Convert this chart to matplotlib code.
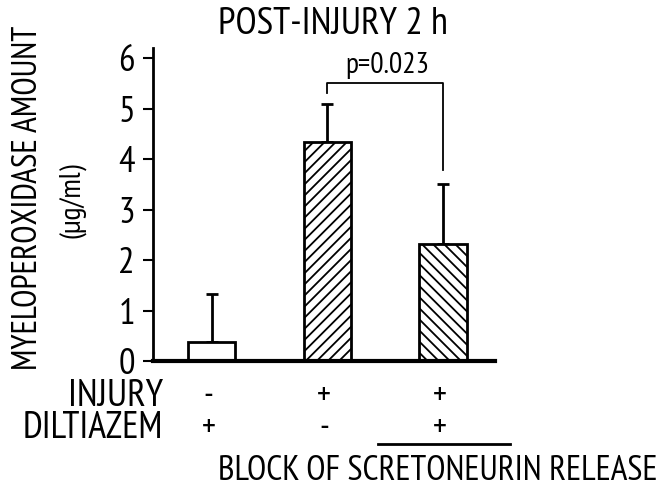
import matplotlib
matplotlib.use("Agg")
import matplotlib.pyplot as plt
from matplotlib import font_manager
from matplotlib.font_manager import FontProperties

# ---- data ----
groups = ["sham", "injury", "injury + diltiazem"]
mpo_mean = [0.37, 4.34, 2.32]
mpo_err = [0.96, 0.76, 1.18]
hatches = ["", "///", "\\\\\\"]
injury_marks = ["-", "+", "+"]
diltiazem_marks = ["+", "-", "+"]
yticks = [0, 1, 2, 3, 4, 5, 6]
p_label = "p=0.023"
bracket_y = 5.5
bracket_left_drop = 5.3
bracket_right_drop = 3.78


def pick_condensed():
    """Return a FontProperties for a narrow sans face if one is installed."""
    best = None
    for f in font_manager.fontManager.ttflist:
        low = (f.name + " " + f.fname).lower()
        if ("narrow" in low or "condensed" in low or f.stretch in ("condensed", "semi-condensed")) \
                and f.style == "normal" and f.weight in (400, "normal", "regular", "book"):
            if "sans" in low:
                if best is None or "narrow" in low:
                    best = f
    if best is not None:
        return FontProperties(fname=best.fname)
    return FontProperties(family=["Liberation Sans", "DejaVu Sans"])


base_fp = pick_condensed()
plt.rcParams["hatch.linewidth"] = 1.3

W, H = 661, 487
fig = plt.figure(figsize=(W / 100, H / 100), dpi=100)
ax = fig.add_axes([153 / W, 1 - 361 / H, 342 / W, 313 / H])

x = list(range(len(groups)))
ax.bar(x, mpo_mean, width=0.41, color="white", edgecolor="black",
       linewidth=2.0, hatch=hatches, zorder=2)
ax.errorbar(x, mpo_mean, yerr=[[0] * 3, mpo_err], fmt="none", ecolor="black",
            elinewidth=2.0, capsize=4, capthick=2.0, zorder=1)

ax.set_xlim(-0.506, 2.45)
ax.set_ylim(0, 6.2)
ax.set_yticks(yticks)
ax.set_xticks([])
for s in ["top", "right"]:
    ax.spines[s].set_visible(False)
ax.spines["left"].set_linewidth(2.0)
ax.spines["bottom"].set_linewidth(3.0)
ax.tick_params(axis="y", length=7, width=1.5, pad=6, direction="out")

renderer = fig.canvas.get_renderer()


def fitted(t, size_px, along="width"):
    """Rescale a text so its extent along one direction is size_px pixels."""
    fp = base_fp.copy()
    fp.set_size(20)
    t.set_fontproperties(fp)
    bb = t.get_window_extent(renderer)
    cur = bb.width if along == "width" else bb.height
    fp.set_size(20 * size_px / cur)
    t.set_fontproperties(fp)
    return t


# tick labels
ax.set_yticklabels([str(v) for v in yticks])
probe = fig.text(0, 0, "0123456789", alpha=0)
fitted(probe, 165)
tick_fp = probe.get_fontproperties().copy()
probe.remove()
for lab in ax.get_yticklabels():
    lab.set_fontproperties(tick_fp)

# significance bracket
ax.plot([1, 1, 2, 2], [bracket_left_drop, bracket_y, bracket_y, bracket_right_drop],
        color="black", lw=1.3, clip_on=False)
pt = ax.text(1.52, bracket_y + 0.08, p_label, ha="center", va="bottom")
fitted(pt, 84)

# title and y label
fitted(fig.text(333 / W, 1 - 25 / H, "POST-INJURY 2 h", ha="center", va="center"), 230)
fitted(fig.text(28 / W, 1 - 198 / H, "MYELOPEROXIDASE AMOUNT", ha="center", va="center",
                rotation=90), 345, along="height")
fitted(fig.text(72 / W, 1 - 200 / H, "(μg/ml)", ha="center", va="center",
                rotation=90), 76, along="height")

# treatment rows below the axis
fitted(fig.text(163 / W, 1 - 396 / H, "INJURY", ha="right", va="center"), 95)
fitted(fig.text(163 / W, 1 - 428 / H, "DILTIAZEM", ha="right", va="center"), 140)
plus_probe = fig.text(0, 0, "+", alpha=0)
fitted(plus_probe, 14)
mark_fp = plus_probe.get_fontproperties().copy()
plus_probe.remove()
for xi, m in zip(x, injury_marks):
    fig.text((153 + (xi + 0.506) * 115.5 - 3) / W, 1 - 396 / H, m, ha="center",
             va="center", fontproperties=mark_fp)
for xi, m in zip(x, diltiazem_marks):
    fig.text((153 + (xi + 0.506) * 115.5 - 3) / W, 1 - 428 / H, m, ha="center",
             va="center", fontproperties=mark_fp)
fig.add_artist(plt.Line2D([378 / W, 510 / W], [1 - 444 / H, 1 - 444 / H],
                          color="black", lw=2.0))
fitted(fig.text(438 / W, 1 - 471 / H, "BLOCK OF SCRETONEURIN RELEASE", ha="center",
                va="center"), 440)

fig.savefig("out.png", dpi=100)
